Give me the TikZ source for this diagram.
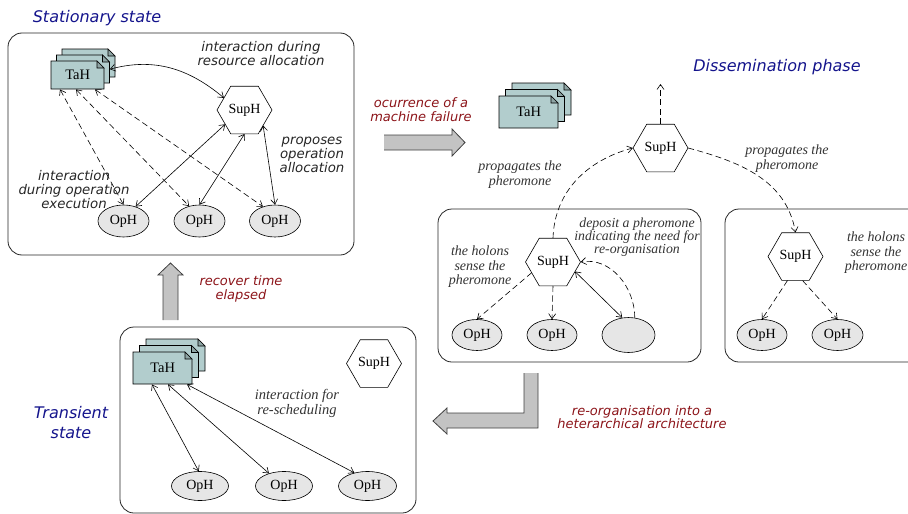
\documentclass[tikz,border=0pt]{standalone}
\usepackage{fontspec}
\setmainfont{Liberation Serif}
\newfontfamily\vsans{DejaVu Sans}
\usetikzlibrary{arrows.meta,shapes.geometric}

\definecolor{titleblue}{RGB}{20,20,140}
\definecolor{eventred}{RGB}{140,20,25}
\definecolor{tahfill}{RGB}{178,205,205}
\definecolor{opfill}{RGB}{230,230,230}
\definecolor{bigarrow}{RGB}{195,195,195}

\tikzset{
  panel/.style={draw=black!85, line width=.8pt, rounded corners=14pt, inner sep=0pt},
  hexline/.style={draw=black, fill=white, line width=.6pt},
  hexlabel/.style={inner sep=0pt, minimum width=55pt, minimum height=47.6pt, font=\fontsize{14}{14}\selectfont},
  oph/.style={draw, fill=opfill, line width=.6pt, ellipse, inner sep=0pt,
    minimum width=51pt, minimum height=32pt, font=\fontsize{14}{14}\selectfont},
  oneway/.style={line width=.6pt, arrows={-Straight Barb[length=5pt,width=7pt]}},
  twoway/.style={line width=.6pt,
    arrows={Straight Barb[length=5pt,width=7pt]-Straight Barb[length=5pt,width=7pt]}},
  dashline/.style={dash pattern=on 6pt off 3.5pt},
  title/.style={text=titleblue, font=\vsans\itshape\fontsize{16}{20}\selectfont, align=center, inner sep=0pt},
  event/.style={text=eventred, font=\vsans\itshape\fontsize{13}{14}\selectfont, align=center, inner sep=0pt},
  note/.style={text=black!85, font=\vsans\itshape\fontsize{13.3}{14}\selectfont, align=center, inner sep=0pt},
  snote/.style={text=black!80, font=\itshape\fontsize{14}{15}\selectfont, align=center, inner sep=0pt},
  fatfill/.style={fill=bigarrow},
  fatline/.style={draw=black!75, line width=.8pt},
}

% supervisor holon: hexagon with points left and right (name, x, y)
\newcommand\supnode[3]{%
  \path[hexline] ({#2-27.5},{#3}) -- ({#2-13.75},{#3-23.8}) -- ({#2+13.75},{#3-23.8})
    -- ({#2+27.5},{#3}) -- ({#2+13.75},{#3+23.8}) -- ({#2-13.75},{#3+23.8}) -- cycle;
  \node[hexlabel] (#1) at ({#2},{#3}) {SupH};
}

% one task-holon sheet with a folded corner: name, left, top, width, height, text
\newcommand\docsheet[6]{%
  \path[draw=black, fill=tahfill, line width=.7pt]
    ({#2},{#3}) -- ({#2+#4-7},{#3}) -- ({#2+#4},{#3+7}) -- ({#2+#4},{#3+#5}) -- ({#2},{#3+#5}) -- cycle;
  \path[draw=black, fill=tahfill!80!black, line width=.6pt]
    ({#2+#4-7},{#3}) -- ({#2+#4-7},{#3+7}) -- ({#2+#4},{#3+7}) -- cycle;
  \node[inner sep=0pt, minimum width=#4pt, minimum height=#5pt, anchor=north west,
        font=\fontsize{14.5}{14}\selectfont] (#1) at ({#2},{#3}) {#6};
}

\begin{document}
\begin{tikzpicture}[x=1pt,y=-1pt]
\useasboundingbox (0,0) rectangle (908,514);

% panels
\begin{scope}
  \clip (0,0) rectangle (908,514);
  \node[panel, minimum width=346pt, minimum height=222pt] (stat) at (181,144) {};
  \node[panel, minimum width=263pt, minimum height=153pt] (diss) at (569.5,285.5) {};
  \node[panel, minimum width=200pt, minimum height=153pt] (dissr) at (825,285.5) {};
  \node[panel, minimum width=296pt, minimum height=186pt] (tran) at (268,420) {};
\end{scope}

% titles
\node[title] (t1) at (97,18) {Stationary state};
\node[title] (t2) at (777,67) {Dissemination phase};
\node[title] (t3) at (71,423) {Transient\\state};

% task holons
\docsheet{ta1b}{62}{49}{53}{28}{}
\docsheet{ta1m}{56.5}{55}{53}{28}{}
\docsheet{ta1}{51}{61}{53}{28}{TaH}

\docsheet{ta2b}{512}{83}{59}{32}{}
\docsheet{ta2m}{505.5}{89.5}{59}{32}{}
\docsheet{ta2}{499}{96}{59}{32}{TaH}

\docsheet{ta5b}{146}{339}{59}{32}{}
\docsheet{ta5m}{139.5}{345.5}{59}{32}{}
\docsheet{ta5}{133}{352}{59}{32}{TaH}

% supervisor holons
\supnode{sup1}{244.5}{110}
\supnode{sup2}{660.5}{148}
\supnode{sup3}{553}{262}
\supnode{sup4}{795.5}{256.5}
\supnode{sup5}{374}{363.5}

% operational holons
\node[oph] (op11) at (123.5,221) {OpH};
\node[oph] (op12) at (199.5,221) {OpH};
\node[oph] (op13) at (275,221) {OpH};
\node[oph, minimum width=50pt, minimum height=31pt] (op21) at (477,335) {OpH};
\node[oph, minimum width=50pt, minimum height=31pt] (op22) at (552,335) {OpH};
\node[oph, minimum width=53pt, minimum height=35pt] (emp) at (628.5,335) {};
\node[oph, minimum width=50pt, minimum height=31pt] (op31) at (762,335) {OpH};
\node[oph, minimum width=51pt, minimum height=31pt] (op32) at (837.5,335) {OpH};
\node[oph, minimum width=57pt, minimum height=29pt] (op51) at (200,486) {OpH};
\node[oph, minimum width=57pt, minimum height=29pt] (op52) at (284,486) {OpH};
\node[oph, minimum width=58pt, minimum height=29pt] (op53) at (367.5,486) {OpH};

% stationary state interactions
\draw[twoway] (ta1m.east) to[out=15,in=140] ([xshift=-20.6pt,yshift=12.1pt]sup1.center);
\draw[twoway,dashline] ([xshift=9pt]ta1.south west) -- (op11.north);
\draw[twoway,dashline] ([xshift=25pt]ta1.south west) -- (op12.125);
\draw[twoway,dashline] ([xshift=44pt]ta1.south west) -- (op13.130);
\draw[twoway] ([xshift=-19.3pt,yshift=-14.3pt]sup1.center) -- (op11.50);
\draw[twoway] (sup1.south) -- (op12.north);
\draw[twoway] ([xshift=18.6pt,yshift=-15.5pt]sup1.center) -- (op13.north);

% dissemination of the pheromone
\coordinate (up) at (660.5,84);
\draw[oneway,dashline] (sup2.north) -- (up);
\draw[oneway,dashline] (sup3.north) to[out=88,in=195] (sup2.west);
\draw[oneway,dashline] (sup2.east) to[out=-15,in=100] (sup4.north);
\draw[oneway,dashline] ([xshift=-21.3pt,yshift=-10.7pt]sup3.center) -- (op21.north);
\draw[oneway,dashline] (sup3.south) -- (op22.north);
\draw[twoway] ([xshift=22pt,yshift=-9.5pt]sup3.center) -- (emp.110);
\draw[oneway,dashline] (emp.70) to[out=90,in=10] (sup3.east);
\draw[oneway,dashline] ([xshift=-8pt]sup4.south) -- (op31.north);
\draw[oneway,dashline] ([xshift=7pt]sup4.south) -- (op32.north);

% transient state interactions
\draw[twoway] ([xshift=19pt]ta5.south west) -- (op51.95);
\draw[twoway] ([xshift=35pt]ta5.south west) -- (op52.140);
\draw[twoway] ([xshift=54pt]ta5.south west) -- (op53.135);

% labels
\node[note] (l1) at (261,54) {interaction during\\resource allocation};
\node[note] (l2) at (312,155) {proposes\\operation\\allocation};
\node[note] (l3) at (74,190) {interaction\\during operation\\execution};
\node[snote] (l4) at (520,175) {propagates the\\pheromone};
\node[snote] (l5) at (787,159) {propagates the\\pheromone};
\node[snote, font=\itshape\fontsize{13.8}{12.3}\selectfont] (l6) at (637,237) {deposit a pheromone\\indicating the need for\\re-organisation};
\node[snote, font=\itshape\fontsize{14}{14.5}\selectfont] (l7) at (480,267) {the holons\\sense the\\pheromone};
\node[snote, font=\itshape\fontsize{14}{14.5}\selectfont] (l8) at (876,253) {the holons\\sense the\\pheromone};
\node[snote, font=\itshape\fontsize{14.5}{15}\selectfont] (l9) at (297,403) {interaction for\\re-scheduling};

% events
\node[event] (e1) at (421,110) {ocurrence of a\\machine failure};
\node[event] (e2) at (241,289) {recover time\\elapsed};
\node[event, font=\vsans\itshape\fontsize{13}{12.8}\selectfont] (e3) at (642,417) {re-organisation into a\\heterarchical architecture};

% transition arrows
\path[fatfill] (384,135) -- (452,135) -- (452,129) -- (465,142.5) -- (452,156) -- (452,150) -- (384,150) -- cycle;
\path[fatline] (384,135) -- (452,135) -- (452,129) -- (465,142.5) -- (452,156) -- (452,150) -- (384,150);

\path[fatfill] (163,320) -- (163,275) -- (158,275) -- (170.5,263) -- (183,275) -- (178,275) -- (178,320) -- cycle;
\path[fatline] (163,320) -- (163,275) -- (158,275) -- (170.5,263) -- (183,275) -- (178,275) -- (178,320);

\path[fatfill] (524,373) -- (538,373) -- (538,428) -- (447,428) -- (447,434) -- (433,421) -- (447,408) -- (447,413) -- (524,413) -- cycle;
\path[fatline] (538,373) -- (538,428) -- (447,428) -- (447,434) -- (433,421) -- (447,408) -- (447,413) -- (524,413) -- (524,373);
\end{tikzpicture}
\end{document}
